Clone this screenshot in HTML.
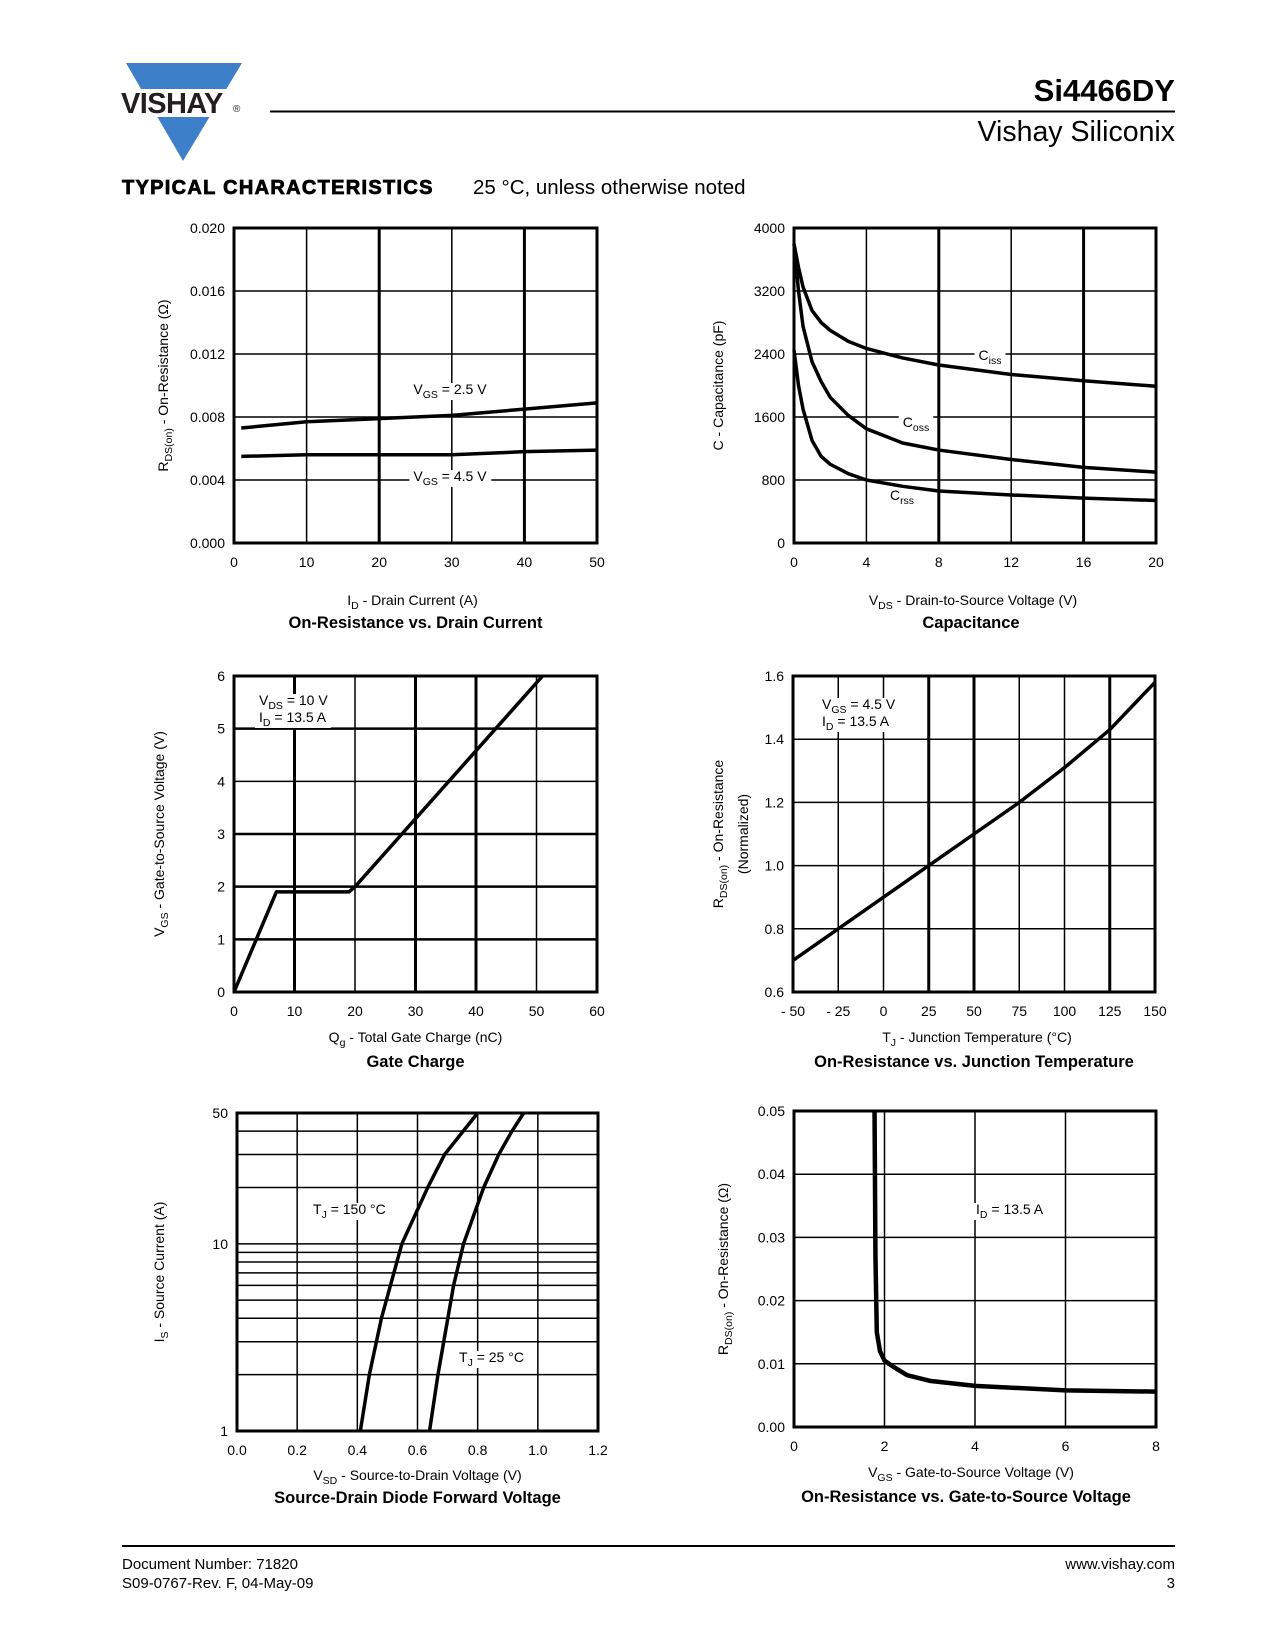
<!DOCTYPE html>
<html><head><meta charset="utf-8"><style>
html,body{margin:0;padding:0;background:#fff;}
svg{display:block;font-family:"Liberation Sans",Arial,sans-serif;}
</style></head><body>
<svg id="page" width="1275" height="1650" viewBox="0 0 1275 1650" xmlns="http://www.w3.org/2000/svg">
<g>
<polygon points="126,63 242,63 183,161" fill="#3d7fc9"/>
<rect x="118" y="89" width="130" height="28" fill="#fff"/>
<text x="121" y="113" font-size="29" font-weight="bold" letter-spacing="-0.6" fill="#231f20">VISHAY</text>
<text x="233" y="112" font-size="10" fill="#231f20">®</text>
</g>
<line x1="270" y1="111.5" x2="1175" y2="111.5" stroke="#000" stroke-width="2"/>
<text x="1175" y="101" font-size="31" font-weight="bold" text-anchor="end">Si4466DY</text>
<text x="1175" y="141" font-size="28.5" text-anchor="end">Vishay Siliconix</text>
<text x="122" y="194" font-size="20" font-weight="900" stroke="#000" stroke-width="0.8" letter-spacing="1.3">TYPICAL CHARACTERISTICS</text>
<text x="473" y="194" font-size="20.5">25 °C, unless otherwise noted</text>
<line x1="122" y1="1546" x2="1175" y2="1546" stroke="#000" stroke-width="2"/>
<text x="122" y="1569" font-size="15">Document Number: 71820</text>
<text x="122" y="1588" font-size="15">S09-0767-Rev. F, 04-May-09</text>
<text x="1175" y="1569" font-size="15" text-anchor="end">www.vishay.com</text>
<text x="1175" y="1588" font-size="15" text-anchor="end">3</text>
</svg>
<script>
// ---- Chart 1: On-Resistance vs Drain Current
const c1X = [1, 10, 20, 30, 40, 50];
const c1Vgs25 = [0.0073, 0.0077, 0.0079, 0.0081, 0.0085, 0.0089];
const c1Vgs45 = [0.0055, 0.0056, 0.0056, 0.0056, 0.0058, 0.0059];
const c1XTicks = ["0","10","20","30","40","50"];
const c1YTicks = ["0.000","0.004","0.008","0.012","0.016","0.020"];
// ---- Chart 2: Capacitance
const c2X = [0, 0.25, 0.5, 1, 1.5, 2, 3, 4, 6, 8, 12, 16, 20];
const c2Ciss = [3800, 3500, 3250, 2950, 2800, 2700, 2560, 2470, 2350, 2260, 2140, 2060, 1990];
const c2Coss = [3800, 3200, 2750, 2300, 2050, 1850, 1620, 1450, 1270, 1180, 1060, 960, 900];
const c2Crss = [2450, 2000, 1700, 1300, 1100, 1000, 880, 800, 720, 660, 610, 570, 540];
const c2XTicks = ["0","4","8","12","16","20"];
const c2YTicks = ["0","800","1600","2400","3200","4000"];
// ---- Chart 3: Gate Charge
const c3Qg = [0, 7, 19, 20, 51];
const c3Vgs = [0, 1.9, 1.9, 2.0, 6];
const c3XTicks = ["0","10","20","30","40","50","60"];
const c3YTicks = ["0","1","2","3","4","5","6"];
// ---- Chart 4: On-Resistance vs Junction Temperature
const c4Tj = [-50, -25, 0, 25, 50, 75, 100, 125, 150];
const c4R = [0.70, 0.80, 0.90, 1.00, 1.10, 1.20, 1.31, 1.43, 1.58];
const c4XTicks = ["- 50","- 25","0","25","50","75","100","125","150"];
const c4YTicks = ["0.6","0.8","1.0","1.2","1.4","1.6"];
// ---- Chart 5: Source-Drain Diode Forward Voltage
const c5Is = [1, 2, 4, 10, 20, 30, 50];
const c5V150 = [0.41, 0.44, 0.48, 0.548, 0.634, 0.69, 0.80];
const c5Is25 = [1, 2, 6, 10, 20, 30, 40, 50];
const c5V25 = [0.64, 0.668, 0.72, 0.753, 0.82, 0.87, 0.914, 0.953];
const c5XTicks = ["0.0","0.2","0.4","0.6","0.8","1.0","1.2"];
// ---- Chart 6: On-Resistance vs Gate-to-Source Voltage
const c6Vgs = [1.78, 1.8, 1.83, 1.9, 2.0, 2.2, 2.5, 3, 4, 6, 8];
const c6R = [0.05, 0.027, 0.015, 0.012, 0.0105, 0.0095, 0.0082, 0.0073, 0.0065, 0.0058, 0.0056];
const c6XTicks = ["0","2","4","6","8"];
const c6YTicks = ["0.00","0.01","0.02","0.03","0.04","0.05"];

const NS = "http://www.w3.org/2000/svg";
const svg = document.getElementById('page');
function mk(tag, attrs, parent){ const e=document.createElementNS(NS,tag); for(const k in attrs) e.setAttribute(k,attrs[k]); (parent||svg).appendChild(e); return e; }
function richText(parent, x, y, parts, opts){
  const t = mk('text', Object.assign({x:x, y:y, 'font-size':14}, opts||{}), parent);
  let sub=false;
  parts.forEach(p=>{
    const ts = document.createElementNS(NS,'tspan');
    if(p[1]==='sub'){ ts.setAttribute('dy', sub?0:4); ts.setAttribute('font-size', (opts&&opts['font-size']?opts['font-size']:14)*0.75); sub=true; }
    else { if(sub){ ts.setAttribute('dy',-4); } sub=false; }
    ts.textContent=p[0]; t.appendChild(ts);
  });
  return t;
}
function frame(g, L, R, T, B){
  mk('rect',{x:L,y:T,width:R-L,height:B-T,fill:'none',stroke:'#000','stroke-width':3},g);
}
function vline(g,x,T,B,w){ mk('line',{x1:x,y1:T,x2:x,y2:B,stroke:'#000','stroke-width':w},g); }
function hline(g,y,L,R,w){ mk('line',{x1:L,y1:y,x2:R,y2:y,stroke:'#000','stroke-width':w},g); }
function curve(g, xs, ys, sx, sy, w, name){
  const d = xs.map((v,i)=>(i?'L':'M')+sx(v).toFixed(2)+','+sy(ys[i]).toFixed(2)).join(' ');
  const p = mk('path',{d:d,fill:'none',stroke:'#000','stroke-width':w,'stroke-linejoin':'round','stroke-linecap':'butt'},g);
  
  
  return p;
}
function label(g, x, y, parts, anchor, bg, name){
  const t = richText(g, x, y, parts, {'text-anchor':anchor||'start','font-size':14});
  
  
  if(bg){ const b=t.getBBox(); const r=mk('rect',{x:b.x-4,y:b.y+2,width:b.width+8,height:b.height-3,fill:'#fff'},g); g.insertBefore(r,g.__bgAnchor||t); }
  return t;
}

function linChart(cfg){
  const g = mk('g',{});
  
  
  const {L,R,T,B} = cfg;
  const sx = v => L + (v-cfg.x0)/(cfg.x1-cfg.x0)*(R-L);
  const sy = cfg.log ? (v => B - Math.log10(v/cfg.y0)/Math.log10(cfg.y1/cfg.y0)*(B-T)) : (v => B - (v-cfg.y0)/(cfg.y1-cfg.y0)*(B-T));
  cfg.grid(g, sx, sy);
  g.__bgAnchor = mk('g',{},g);
  frame(g,L,R,T,B);
  cfg.xTicks.forEach((s,i)=>{
    const v = cfg.x0 + i*(cfg.x1-cfg.x0)/(cfg.xTicks.length-1);
    const t = mk('text',{x:sx(v), y:B+24, 'font-size':14, 'text-anchor':'middle'},g);
    t.textContent=s;
    
    
  });
  cfg.yTicks.forEach((s,i)=>{
    const v = cfg.yTickVals ? cfg.yTickVals[i] : cfg.y0 + i*(cfg.y1-cfg.y0)/(cfg.yTicks.length-1);
    const t = mk('text',{x:L-9, y:sy(v)+5, 'font-size':14, 'text-anchor':'end'},g);
    t.textContent=s;
    
    
  });
  const xt = richText(g,(L+R)/2+cfg.xtOff, cfg.xtY, cfg.xTitle, {'text-anchor':'middle','font-size':14});
  
  
  const ct = mk('text',{x:(L+R)/2+cfg.ctOff, y:cfg.ctY, 'font-size':16.5, 'font-weight':'bold', 'text-anchor':'middle'},g);
  ct.textContent = cfg.title;
  
  
  cfg.yTitle.forEach((yt,i)=>{
    const cx = cfg.ytX[i], cy=(T+B)/2;
    const t = richText(g, cx, cy, yt, {'text-anchor':'middle','font-size':14,transform:`rotate(-90 ${cx} ${cy})`});
    
    
  });
  cfg.series(g, sx, sy);
  return g;
}

linChart({name:'chart-on-resistance-vs-drain-current', L:234,R:597,T:228,B:543, x0:0,x1:50,y0:0,y1:0.020,
  xTicks:c1XTicks, yTicks:c1YTicks, xtY:605, xtOff:-3, ctY:628, ctOff:0, title:'On-Resistance vs. Drain Current',
  xTitle:[['I'],['D','sub'],[' - Drain Current (A)']], ytX:[168],
  yTitle:[[['R'],['DS(on)','sub'],[' - On-Resistance (Ω)']]],
  grid:(g,sx,sy)=>{ [10,20,30,40].forEach(v=>vline(g,sx(v),228,543,(v%20===0)?3:1.5)); [0.004,0.008,0.012,0.016].forEach(v=>hline(g,sy(v),234,597,1.5)); },
  series:(g,sx,sy)=>{
    curve(g,c1X,c1Vgs25,sx,sy,3.5,'series-vgs-2-5v');
    curve(g,c1X,c1Vgs45,sx,sy,3.5,'series-vgs-4-5v');
    label(g,450,394,[['V'],['GS','sub'],[' = 2.5 V']],'middle',true,'label-vgs-2-5v');
    label(g,450,481,[['V'],['GS','sub'],[' = 4.5 V']],'middle',true,'label-vgs-4-5v');
  }});

linChart({name:'chart-capacitance', L:794,R:1156,T:228,B:543, x0:0,x1:20,y0:0,y1:4000,
  xTicks:c2XTicks, yTicks:c2YTicks, xtY:605, xtOff:-2, ctY:628, ctOff:-4, title:'Capacitance',
  xTitle:[['V'],['DS','sub'],[' - Drain-to-Source Voltage (V)']], ytX:[723],
  yTitle:[[['C - Capacitance (pF)']]],
  grid:(g,sx,sy)=>{ [4,8,12,16].forEach(v=>vline(g,sx(v),228,543,(v%8===0)?3:1.5)); [800,1600,2400,3200].forEach(v=>hline(g,sy(v),794,1156,1.5)); },
  series:(g,sx,sy)=>{
    label(g,990,360,[['C'],['iss','sub']],'middle',true,'label-ciss');
    label(g,916,427,[['C'],['oss','sub']],'middle',true,'label-coss');
    label(g,902,500,[['C'],['rss','sub']],'middle',false,'label-crss');
    curve(g,c2X,c2Ciss,sx,sy,3.5,'series-ciss');
    curve(g,c2X,c2Coss,sx,sy,3.5,'series-coss');
    curve(g,c2X,c2Crss,sx,sy,3.5,'series-crss');
  }});

linChart({name:'chart-gate-charge', L:234,R:597,T:676,B:992, x0:0,x1:60,y0:0,y1:6,
  xTicks:c3XTicks, yTicks:c3YTicks, xtY:1042, xtOff:0, ctY:1067, ctOff:0, title:'Gate Charge',
  xTitle:[['Q'],['g','sub'],[' - Total Gate Charge (nC)']], ytX:[164],
  yTitle:[[['V'],['GS','sub'],[' - Gate-to-Source Voltage (V)']]],
  grid:(g,sx,sy)=>{ [10,20,30,40,50].forEach(v=>vline(g,sx(v),676,992,(v===10||v===30||v===40)?3:1.5)); [1,2,3,4,5].forEach(v=>hline(g,sy(v),234,597,(v===4)?1.5:2.5)); },
  series:(g,sx,sy)=>{
    label(g,259,705,[['V'],['DS','sub'],[' = 10 V']],'start',true,'label-vds');
    label(g,259,722,[['I'],['D','sub'],[' = 13.5 A']],'start',true,'label-id');
    curve(g,c3Qg,c3Vgs,sx,sy,3.5,'series-vgs');
  }});

linChart({name:'chart-on-resistance-vs-junction-temperature', L:793,R:1155,T:676,B:992, x0:-50,x1:150,y0:0.6,y1:1.6,
  xTicks:c4XTicks, yTicks:c4YTicks, xtY:1042, xtOff:3, ctY:1067, ctOff:0, title:'On-Resistance vs. Junction Temperature',
  xTitle:[['T'],['J','sub'],[' - Junction Temperature (°C)']], ytX:[723,748],
  yTitle:[[['R'],['DS(on)','sub'],[' - On-Resistance']],[['(Normalized)']]],
  grid:(g,sx,sy)=>{ [-25,0,25,50,75,100,125].forEach(v=>vline(g,sx(v),676,992,(v===25||v===50||v===125)?3:1.5)); [0.8,1.0,1.2,1.4].forEach(v=>hline(g,sy(v),793,1155,1.5)); },
  series:(g,sx,sy)=>{
    label(g,822,709,[['V'],['GS','sub'],[' = 4.5 V']],'start',true,'label-vgs');
    label(g,822,726,[['I'],['D','sub'],[' = 13.5 A']],'start',true,'label-id');
    curve(g,c4Tj,c4R,sx,sy,3.5,'series-rds-normalized');
  }});

linChart({name:'chart-source-drain-diode-forward-voltage', L:237,R:598,T:1113,B:1431, x0:0,x1:1.2,y0:1,y1:50, log:true,
  xTicks:c5XTicks, yTicks:["1","10","50"], yTickVals:[1,10,50], xtY:1480, xtOff:0, ctY:1503, ctOff:0, title:'Source-Drain Diode Forward Voltage',
  xTitle:[['V'],['SD','sub'],[' - Source-to-Drain Voltage (V)']], ytX:[164],
  yTitle:[[['I'],['S','sub'],[' - Source Current (A)']]],
  grid:(g,sx,sy)=>{ [0.2,0.4,0.6,0.8,1.0].forEach(v=>vline(g,sx(v),1113,1431,1.5)); [2,3,4,5,6,7,8,9,10,20,30,40].forEach(v=>hline(g,sy(v),237,598,1.5)); },
  series:(g,sx,sy)=>{
    label(g,313,1214,[['T'],['J','sub'],[' = 150 °C']],'start',true,'label-tj-150');
    label(g,459,1362,[['T'],['J','sub'],[' = 25 °C']],'start',true,'label-tj-25');
    curve(g,c5V150,c5Is,sx,sy,3.5,'series-tj-150');
    curve(g,c5V25,c5Is25,sx,sy,3.5,'series-tj-25');
  }});

linChart({name:'chart-on-resistance-vs-gate-to-source-voltage', L:794,R:1156,T:1111,B:1427, x0:0,x1:8,y0:0,y1:0.05,
  xTicks:c6XTicks, yTicks:c6YTicks, xtY:1477, xtOff:-4, ctY:1502, ctOff:-9, title:'On-Resistance vs. Gate-to-Source Voltage',
  xTitle:[['V'],['GS','sub'],['  -  Gate-to-Source Voltage (V)']], ytX:[728],
  yTitle:[[['R'],['DS(on)','sub'],['  -   On-Resistance (Ω)']]],
  grid:(g,sx,sy)=>{ [2,4,6].forEach(v=>vline(g,sx(v),1111,1427,1.5)); [0.01,0.02,0.03,0.04].forEach(v=>hline(g,sy(v),794,1156,1.5)); },
  series:(g,sx,sy)=>{
    label(g,976,1214,[['I'],['D','sub'],[' = 13.5 A']],'start',true,'label-id');
    curve(g,c6Vgs,c6R,sx,sy,4.5,'series-rds-on');
  }});
</script>
</body></html>
